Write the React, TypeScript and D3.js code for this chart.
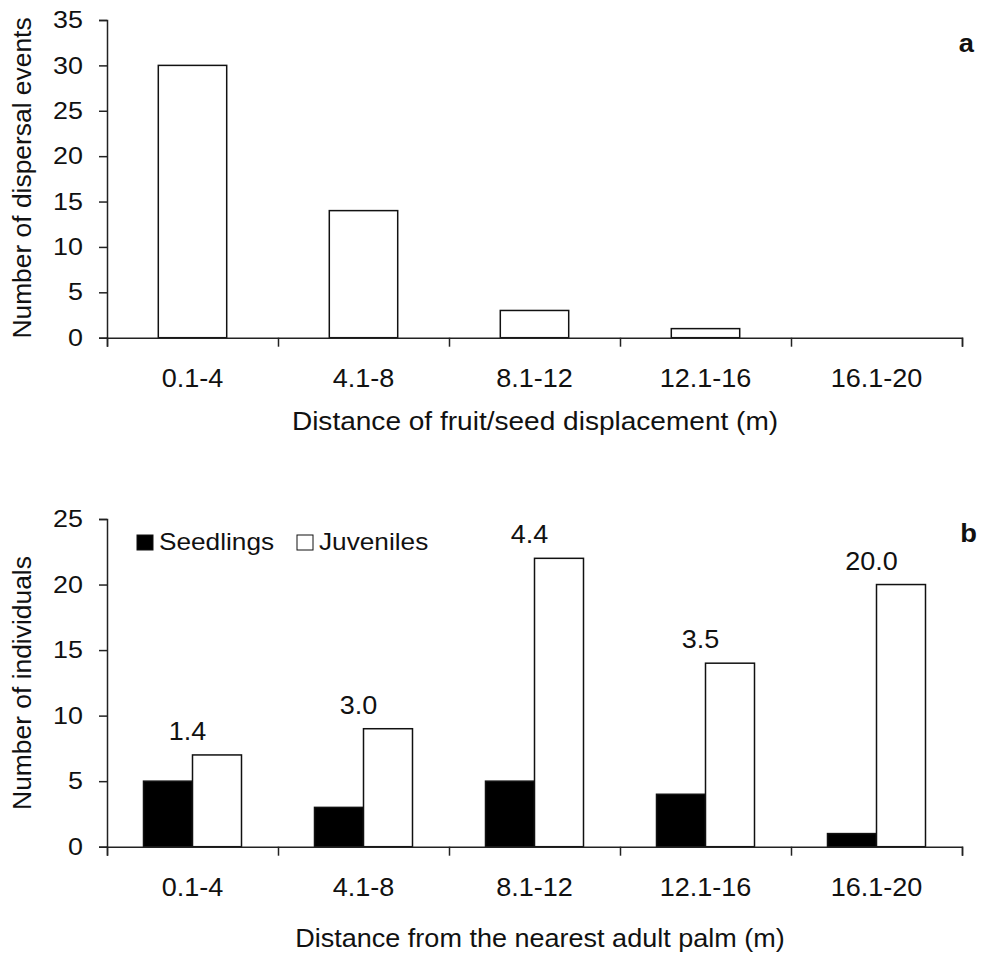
import React, { useEffect, useRef } from 'react';
import * as d3 from 'd3';

const categories = ['0.1-4', '4.1-8', '8.1-12', '12.1-16', '16.1-20'];
const dispersalEvents = [30, 14, 3, 1, 0];
const seedlings = [5, 3, 5, 4, 1];
const juveniles = [7, 9, 22, 14, 20];
const ratioLabels = ['1.4', '3.0', '4.4', '3.5', '20.0'];
const topTicks = [0, 5, 10, 15, 20, 25, 30, 35];
const bottomTicks = [0, 5, 10, 15, 20, 25];
const seriesNames = ['Seedlings', 'Juveniles'];

const FONT = '"Liberation Sans", Arial, sans-serif';
const SX = 1.12; // the original figure is a bit wider than tall

type G = d3.Selection<SVGGElement, unknown, null, undefined>;

// text stretched horizontally like the source image
function label(g: G, x: number, y: number, str: string, anchor = 'middle', size = 24, sx = SX) {
  return g.append('text')
    .attr('transform', `translate(${x},${y}) scale(${sx},1)`)
    .attr('text-anchor', anchor)
    .attr('font-size', size)
    .attr('font-family', FONT)
    .attr('fill', '#111')
    .text(str);
}

export default function App() {
  const ref = useRef<SVGSVGElement>(null);

  useEffect(() => {
    const svg = d3.select(ref.current);
    svg.selectAll('*').remove();

    const left = 107, right = 962;
    const x = d3.scaleBand().domain(categories).range([left, right]).padding(0);
    const xEdge = d3.scaleLinear().domain([0, categories.length]).range([left, right]);
    const cx = (c: string) => x(c)! + x.bandwidth() / 2;

    const styleAxis = (a: G) => {
      a.selectAll('path.domain').attr('stroke', '#222').attr('stroke-width', 1.5);
      a.selectAll('.tick line').attr('stroke', '#222').attr('stroke-width', 1.5);
      a.selectAll('.tick text')
        .attr('font-size', 24)
        .attr('font-family', FONT)
        .attr('fill', '#111')
        .attr('x', -24 / SX)
        .attr('transform', `scale(${SX},1)`);
    };

    // ---- panel a ----
    const yA = d3.scaleLinear().domain([0, 35]).range([337.7, 20]);
    const gA = svg.append('g') as unknown as G;

    const barW = x.bandwidth() * 0.4;
    gA.selectAll('rect.bar')
      .data(dispersalEvents)
      .join('rect')
      .attr('x', (d, i) => x(categories[i])! + (x.bandwidth() - barW) / 2)
      .attr('y', d => yA(d))
      .attr('width', barW)
      .attr('height', d => yA(0) - yA(d))
      .attr('fill', '#fff')
      .attr('stroke', '#111')
      .attr('stroke-width', 1.5);

    const axisA = gA.append('g')
      .attr('transform', `translate(${left},0)`)
      .call(d3.axisLeft(yA).tickValues(topTicks).tickSize(8));
    const axisAB = gA.append('g')
      .attr('transform', `translate(0,${yA(0)})`)
      .call(d3.axisBottom(xEdge).tickValues(d3.range(categories.length + 1)).tickSize(9).tickFormat(() => ''));
    styleAxis(axisA as unknown as G);
    styleAxis(axisAB as unknown as G);

    categories.forEach(c => label(gA, cx(c), 387, c, 'middle', 26, 1.04));
    label(gA, 535, 430, 'Distance of fruit/seed displacement (m)', 'middle', 25.5, 1.1);

    gA.append('text')
      .attr('transform', 'translate(31,178) rotate(-90) scale(1.1,1.05)')
      .attr('text-anchor', 'middle')
      .attr('font-size', 24)
      .attr('font-family', FONT)
      .attr('fill', '#111')
      .text('Number of dispersal events');

    label(gA, 974, 52, 'a', 'end', 26, 1.05).attr('font-weight', 'bold');

    // ---- panel b ----
    const yB = d3.scaleLinear().domain([0, 25]).range([846.7, 519]);
    const gB = svg.append('g') as unknown as G;
    const inner = d3.scaleBand().domain(seriesNames).range([0, x.bandwidth()]).paddingInner(0).paddingOuter(0.745);
    const fills = ['#000', '#fff'];

    const groups = gB.selectAll('g.grp')
      .data(categories)
      .join('g')
      .attr('transform', d => `translate(${x(d)},0)`);

    groups.selectAll('rect')
      .data((d, i) => [seedlings[i], juveniles[i]])
      .join('rect')
      .attr('x', (d, j) => inner(seriesNames[j])!)
      .attr('y', d => yB(d))
      .attr('width', inner.bandwidth())
      .attr('height', d => yB(0) - yB(d))
      .attr('fill', (d, j) => fills[j])
      .attr('stroke', '#111')
      .attr('stroke-width', 1.5);

    ratioLabels.forEach((r, i) => label(gB, cx(categories[i]) - 5, yB(juveniles[i]) - 15, r, 'middle', 25, 1.08));

    const axisB = gB.append('g')
      .attr('transform', `translate(${left},0)`)
      .call(d3.axisLeft(yB).tickValues(bottomTicks).tickSize(8));
    const axisBB = gB.append('g')
      .attr('transform', `translate(0,${yB(0)})`)
      .call(d3.axisBottom(xEdge).tickValues(d3.range(categories.length + 1)).tickSize(9).tickFormat(() => ''));
    styleAxis(axisB as unknown as G);
    styleAxis(axisBB as unknown as G);

    categories.forEach(c => label(gB, cx(c), 896, c, 'middle', 26, 1.04));
    label(gB, 540, 947, 'Distance from the nearest adult palm (m)', 'middle', 25.5, 1.06);

    gB.append('text')
      .attr('transform', 'translate(31,683) rotate(-90) scale(1.1,1.05)')
      .attr('text-anchor', 'middle')
      .attr('font-size', 24)
      .attr('font-family', FONT)
      .attr('fill', '#111')
      .text('Number of individuals');

    label(gB, 977, 542, 'b', 'end', 26, 1.05).attr('font-weight', 'bold');

    // legend
    const legend = gB.append('g').attr('transform', 'translate(137,535)') as unknown as G;
    const legendX = [0, 160];
    seriesNames.forEach((name, j) => {
      legend.append('rect')
        .attr('x', legendX[j])
        .attr('y', 0)
        .attr('width', 16)
        .attr('height', 15)
        .attr('fill', fills[j])
        .attr('stroke', '#111')
        .attr('stroke-width', 1);
      label(legend, legendX[j] + 22, 15, name, 'start', 24.5, 1.07);
    });
  }, []);

  return (
    <svg
      ref={ref}
      width={982}
      height={953}
      style={{ position: 'absolute', left: 0, top: 0, background: '#fff' }}
    />
  );
}
